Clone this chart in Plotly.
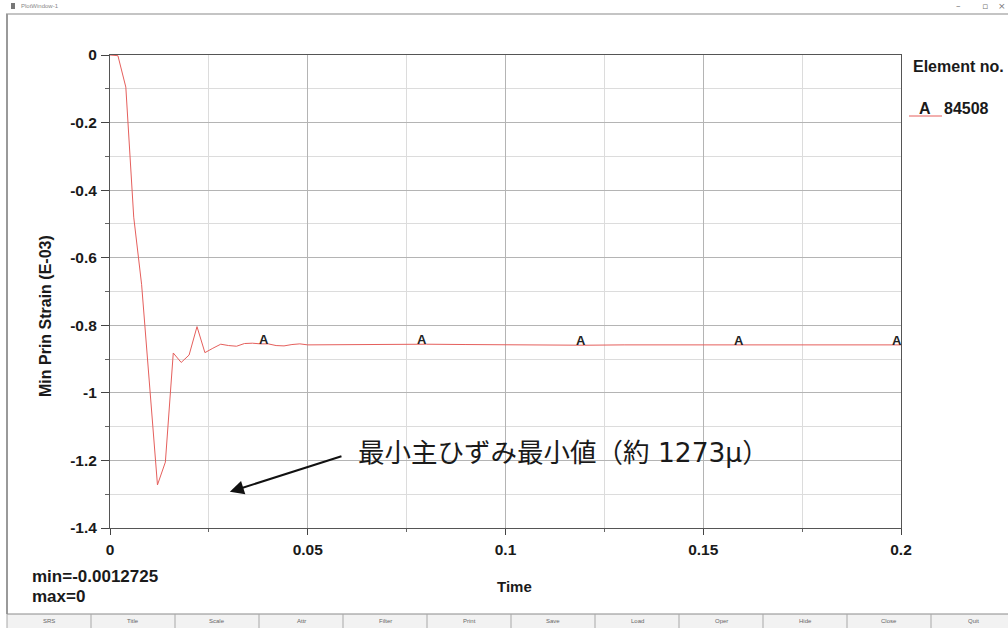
import plotly.graph_objects as go

# ---------------- data ----------------
time = [0.000, 0.002, 0.004, 0.006, 0.008, 0.010, 0.012, 0.014, 0.016, 0.018,
        0.020, 0.022, 0.024, 0.026, 0.028, 0.030, 0.032, 0.034, 0.036, 0.038,
        0.040, 0.042, 0.044, 0.046, 0.048, 0.050, 0.060, 0.070, 0.080, 0.090,
        0.100, 0.110, 0.120, 0.130, 0.140, 0.150, 0.160, 0.170, 0.180, 0.190,
        0.200]
strain = [0.000, -0.002, -0.095, -0.480, -0.680, -0.990, -1.2725, -1.205, -0.882, -0.910,
          -0.888, -0.804, -0.881, -0.868, -0.856, -0.860, -0.862, -0.854, -0.853, -0.855,
          -0.855, -0.860, -0.861, -0.857, -0.855, -0.858, -0.857, -0.856, -0.856, -0.857,
          -0.858, -0.859, -0.859, -0.858, -0.858, -0.858, -0.858, -0.858, -0.858, -0.858,
          -0.858]
mark_times = [0.04, 0.08, 0.12, 0.16, 0.20]
x_tickvals = [0, 0.05, 0.1, 0.15, 0.2]
x_ticktext = ["0", "0.05", "0.1", "0.15", "0.2"]
y_tickvals = [0, -0.2, -0.4, -0.6, -0.8, -1.0, -1.2, -1.4]
y_ticktext = ["0", "-0.2", "-0.4", "-0.6", "-0.8", "-1", "-1.2", "-1.4"]
buttons = ["SRS", "Title", "Scale", "Attr", "Filter", "Print", "Save", "Load",
           "Oper", "Hide", "Close", "Quit"]
min_point = (0.0303, -1.293)
arrow_tail = (0.0589, -1.186)

# ---------------- layout helpers ----------------
W, H = 1008, 628
L, R, T, B = 110, 901, 55, 528


def px(X):
    return (X - L) / (R - L)


def py(Y):
    return (B - Y) / (B - T)


FONT = "Liberation Sans, Arial, sans-serif"
red = "#e55f5c"
DARK = "#1a1a1a"


def label(X, Y, text, size, xanchor="center", weight=700, color=DARK,
          family=FONT, angle=0):
    return dict(x=px(X), y=py(Y), xref="paper", yref="paper", text=text,
                showarrow=False, xanchor=xanchor, yanchor="middle",
                textangle=angle,
                font=dict(family=family, size=size, color=color, weight=weight))


fig = go.Figure()
fig.add_trace(go.Scatter(x=time, y=strain, mode="lines",
                         line=dict(color=red, width=1), showlegend=False,
                         hoverinfo="skip"))

annotations = []
shapes = []

# "A" curve labels
lookup = dict(zip(time, strain))
for t in mark_times:
    annotations.append(dict(x=t, y=lookup[t], xref="x", yref="y", text="A",
                            showarrow=False, xanchor="center", yanchor="bottom",
                            xshift=-4, yshift=-5,
                            font=dict(family=FONT, size=13, color="#222", weight=700)))

# axis titles
annotations.append(label(45, 316, "Min Prin Strain (E-03)", 16, angle=-90))
annotations.append(label(514, 586, "Time", 15))

# min / max text
annotations.append(label(30, 576, "min=-0.0012725", 17, xanchor="left"))
annotations.append(label(30, 596, "max=0", 17, xanchor="left"))

# legend
annotations.append(label(911, 67, "Element no.", 16, xanchor="left"))
annotations.append(label(925, 109, "A", 16))
annotations.append(label(942, 109, "84508", 16, xanchor="left"))
shapes.append(dict(type="line", xref="paper", yref="paper",
                   x0=px(909), x1=px(942), y0=py(116), y1=py(116),
                   line=dict(color=red, width=1)))

# callout text and arrow
callout = ("最小主ひずみ最小値（約<span style='font-family:DejaVu Sans'> 1273μ</span>）")
annotations.append(label(356, 451, callout, 26.5,
                         xanchor="left", weight=400, family="Noto Sans CJK JP"))
annotations.append(dict(x=min_point[0], y=min_point[1], xref="x", yref="y",
                        ax=arrow_tail[0], ay=arrow_tail[1], axref="x", ayref="y",
                        text="", showarrow=True, arrowhead=2, arrowsize=1.4,
                        arrowwidth=2, arrowcolor="#111"))

# window chrome: title bar
shapes.append(dict(type="line", xref="paper", yref="paper",
                   x0=px(6), x1=px(1008), y0=py(14), y1=py(14),
                   line=dict(color="#c4c4c4", width=2)))
shapes.append(dict(type="line", xref="paper", yref="paper",
                   x0=px(7), x1=px(7), y0=py(14), y1=py(614),
                   line=dict(color="#9a9a9a", width=2)))
shapes.append(dict(type="rect", xref="paper", yref="paper",
                   x0=px(11), x1=px(15), y0=py(3), y1=py(9),
                   line=dict(width=0), fillcolor="#777"))
annotations.append(label(19, 6, "PlotWindow-1", 6, xanchor="left", weight=400,
                         color="#888"))
for xx, ch in [(958, "–"), (985, "▫"), (1002, "×")]:
    annotations.append(label(xx, 6, ch, 9, weight=400, color="#777",
                             family="DejaVu Sans"))

# bottom button bar
shapes.append(dict(type="rect", xref="paper", yref="paper",
                   x0=px(7), x1=px(1008), y0=py(614), y1=py(628),
                   line=dict(width=0), fillcolor="#f2f2f2", layer="below"))
shapes.append(dict(type="line", xref="paper", yref="paper",
                   x0=px(7), x1=px(1008), y0=py(614), y1=py(614),
                   line=dict(color="#8a8a8a", width=1)))
bw = 84
for i, name in enumerate(buttons):
    x0 = 7 + i * bw
    shapes.append(dict(type="line", xref="paper", yref="paper",
                       x0=px(x0), x1=px(x0), y0=py(614), y1=py(628),
                       line=dict(color="#a8a8a8", width=1)))
    annotations.append(label(x0 + bw / 2, 621, name, 6, weight=400, color="#666"))

axis_common = dict(showline=True, mirror=True, linecolor="#555", linewidth=1,
                   ticks="outside", tickcolor="#444", zeroline=False,
                   showgrid=True, gridcolor="#b4b4b4", gridwidth=1,
                   tickfont=dict(family=FONT, size=15.5, color=DARK, weight=700))

fig.update_layout(
    width=W, height=H,
    margin=dict(l=L, r=W - R, t=T, b=H - B),
    paper_bgcolor="white", plot_bgcolor="white",
    showlegend=False,
    xaxis=dict(range=[0, 0.2], tickvals=x_tickvals, ticktext=x_ticktext,
               ticklen=6, ticklabelstandoff=1,
               minor=dict(dtick=0.025, tick0=0, showgrid=True, gridcolor="#dcdcdc",
                          ticks="outside", ticklen=3, tickcolor="#666"),
               **axis_common),
    yaxis=dict(range=[-1.4, 0], tickvals=y_tickvals, ticktext=y_ticktext,
               ticklen=8, ticklabelstandoff=1,
               minor=dict(dtick=0.1, tick0=0, showgrid=True, gridcolor="#dcdcdc",
                          ticks="outside", ticklen=4, tickcolor="#666"),
               **axis_common),
    annotations=annotations,
    shapes=shapes,
)

fig.write_html("out.html")
